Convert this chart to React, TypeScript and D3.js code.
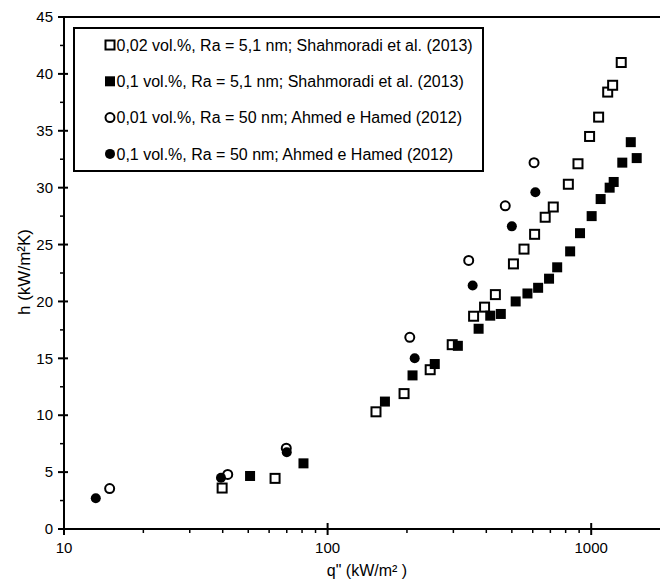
import React from "react";
import * as d3 from "d3";

// Data: [q'' (kW/m²), h (kW/m²K)]
const openSquares: [number, number][] = [
  [39.8, 3.6], [63.2, 4.45], [152.6, 10.3], [195, 11.9], [245, 14.0], [297, 16.2],
  [358, 18.7], [394, 19.5], [433, 20.6], [507, 23.3], [556, 24.6], [610, 25.9],
  [669, 27.4], [718, 28.3], [819, 30.3], [891, 32.1], [986, 34.5], [1067, 36.2],
  [1155, 38.4], [1206, 39.0], [1300, 41.0],
];
const filledSquares: [number, number][] = [
  [50.8, 4.66], [81, 5.77], [165, 11.2], [210, 13.5], [255, 14.5], [312, 16.1],
  [374, 17.6], [414, 18.75], [454, 18.9], [517, 20.0], [573, 20.7], [629, 21.2],
  [692, 22.0], [743, 23.0], [832, 24.4], [907, 26.0], [1004, 27.5], [1086, 29.0],
  [1175, 30.0], [1217, 30.5], [1312, 32.2], [1413, 34.0], [1488, 32.6],
];
const openCircles: [number, number][] = [
  [14.9, 3.55], [41.8, 4.8], [69.7, 7.1], [205, 16.85], [343, 23.6], [472, 28.4], [607, 32.2],
];
const filledCircles: [number, number][] = [
  [13.2, 2.7], [39.4, 4.5], [70, 6.74], [214, 15.0], [355, 21.4], [500, 26.6], [614, 29.6],
];

const legendLabels = [
  "0,02 vol.%, Ra = 5,1 nm; Shahmoradi et al. (2013)",
  "0,1 vol.%, Ra = 5,1 nm; Shahmoradi et al. (2013)",
  "0,01 vol.%, Ra = 50 nm; Ahmed e Hamed (2012)",
  "0,1 vol.%, Ra = 50 nm; Ahmed e Hamed (2012)",
];
const xMajorTicks = [10, 100, 1000];
const yMajorTicks = [0, 5, 10, 15, 20, 25, 30, 35, 40, 45];
const xLabel = 'q" (kW/m² )';
const yLabel = "h (kW/m²K)";

const W = 660;
const H = 581;
const left = 64;
const top = 17;
const bottom = 529;

export default function App() {
  const x = d3.scaleLog().domain([10, 2000]).range([left, left + Math.log10(200) * 263.6]);
  const y = d3.scaleLinear().domain([0, 45]).range([bottom, top]);

  const xMinor: number[] = [];
  [10, 100, 1000].forEach((d) => {
    for (let k = 2; k <= 9; k++) xMinor.push(d * k);
  });
  const yMinor = d3.range(2.5, 45, 5);

  const font = "'Liberation Sans', Arial, sans-serif";
  const sq = 9;
  const r = 4.5;

  const marker = (type: number, cx: number, cy: number, key: string) => {
    if (type === 0)
      return <rect key={key} x={cx - sq / 2} y={cy - sq / 2} width={sq} height={sq} fill="white" stroke="black" strokeWidth={2} />;
    if (type === 1)
      return <rect key={key} x={cx - 5} y={cy - 5} width={10} height={10} fill="black" />;
    if (type === 2)
      return <circle key={key} cx={cx} cy={cy} r={r} fill="white" stroke="black" strokeWidth={2} />;
    return <circle key={key} cx={cx} cy={cy} r={5} fill="black" />;
  };

  const series = [openSquares, filledSquares, openCircles, filledCircles];

  return (
    <svg width={W} height={H} style={{ position: "absolute", left: 0, top: 0, background: "white" }} fontFamily={font}>
      <rect x={0} y={0} width={W} height={H} fill="white" />
      {/* frame */}
      <line x1={left} x2={W} y1={top} y2={top} stroke="black" strokeWidth={2} />
      <line x1={left} x2={left} y1={top} y2={bottom} stroke="black" strokeWidth={2} />
      <line x1={left} x2={W} y1={bottom} y2={bottom} stroke="black" strokeWidth={2} />
      {/* y ticks */}
      {yMajorTicks.map((t) => (
        <g key={"yt" + t}>
          <line x1={left - 6} x2={left + 4} y1={y(t)} y2={y(t)} stroke="black" strokeWidth={2} />
          <text x={53} y={y(t)} dy="0.35em" textAnchor="end" fontSize={15}>{t}</text>
        </g>
      ))}
      {yMinor.map((t) => (
        <line key={"ym" + t} x1={left - 4} x2={left} y1={y(t)} y2={y(t)} stroke="black" strokeWidth={1.5} />
      ))}
      {/* x ticks */}
      {xMajorTicks.map((t) => (
        <g key={"xt" + t}>
          <line x1={x(t)} x2={x(t)} y1={bottom - 6} y2={bottom + 6} stroke="black" strokeWidth={2} />
          <text x={x(t)} y={548} dy="0.35em" textAnchor="middle" fontSize={15}>{t}</text>
        </g>
      ))}
      {xMinor.map((t) => (
        <line key={"xm" + t} x1={x(t)} x2={x(t)} y1={bottom} y2={bottom + 4} stroke="black" strokeWidth={1.5} />
      ))}
      <text x={367} y={570} dy="0.35em" textAnchor="middle" fontSize={16}>{xLabel}</text>
      <text transform={`translate(24, 272) rotate(-90)`} textAnchor="middle" dy="0.35em" fontSize={17}>{yLabel}</text>
      {/* data */}
      {series.map((s, i) => s.map((d, j) => marker(i, x(d[0]), y(d[1]), `p${i}-${j}`)))}
      {/* legend */}
      <rect x={74} y={28} width={409} height={143} fill="white" stroke="black" strokeWidth={2} />
      {legendLabels.map((l, i) => {
        const cy = 45 + i * 36.3;
        return (
          <g key={"lg" + i}>
            {marker(i, 110, cy, "lm" + i)}
            <text x={116.5} y={cy} dy="0.35em" fontSize={16}>{l}</text>
          </g>
        );
      })}
    </svg>
  );
}
